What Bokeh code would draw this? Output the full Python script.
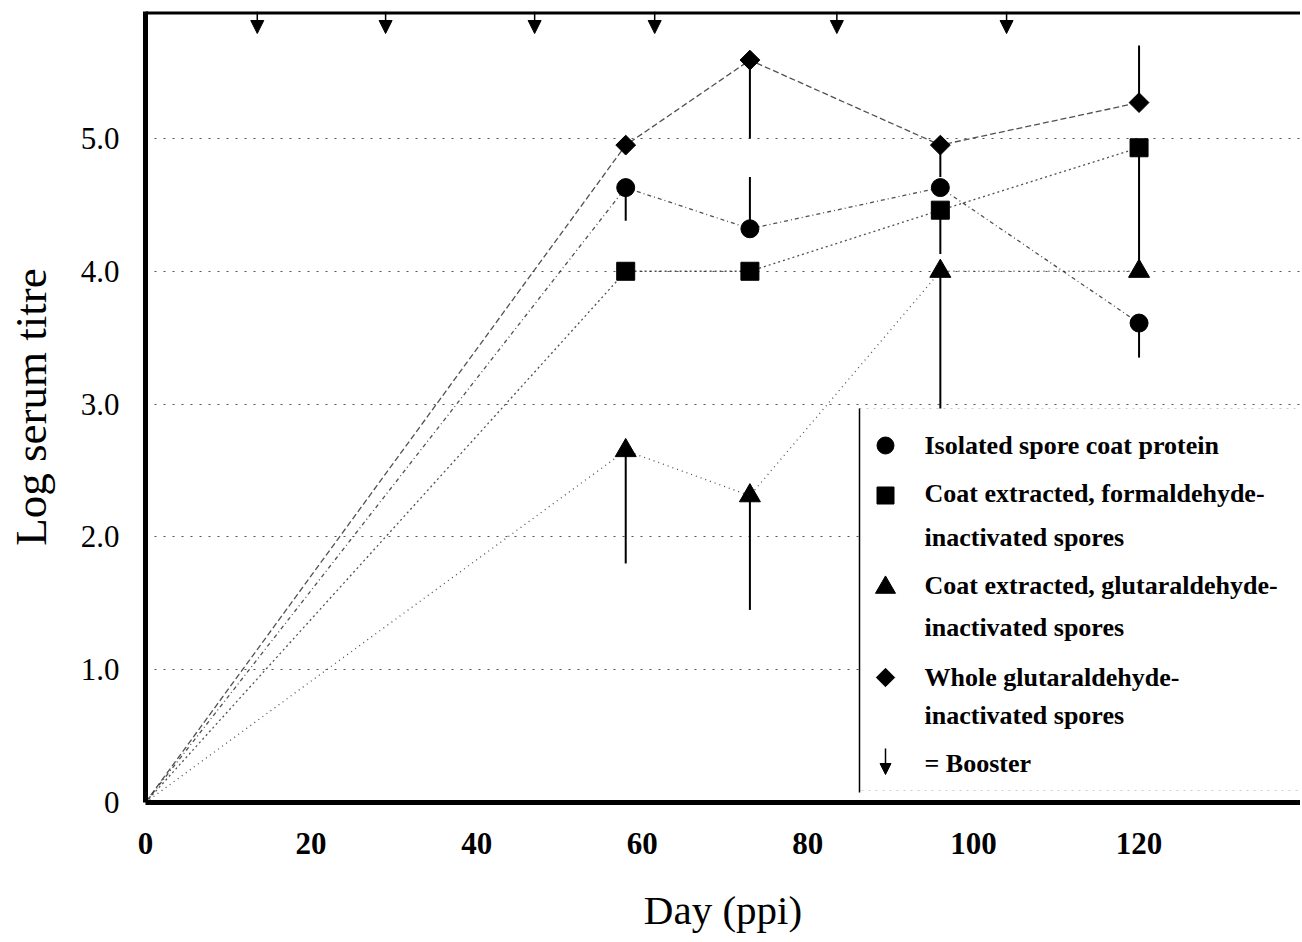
import math
from bokeh.plotting import figure
from bokeh.models import (ColumnDataSource, FixedTicker, BoxAnnotation, Label,
                          Arrow, NormalHead, Span)
from bokeh.embed import file_html
from bokeh.resources import INLINE

# ---------------- data ----------------
line_days = [0, 58, 73, 96, 120]
days = [58, 73, 96, 120]

spore_coat = [4.63, 4.32, 4.63, 3.61]
formaldehyde = [4.0, 4.0, 4.46, 4.93]
glutaraldehyde = [2.65, 2.31, 4.0, 4.0]
whole_spores = [4.95, 5.59, 4.95, 5.27]

nan = float("nan")
spore_coat_err = [4.38, 4.71, nan, 3.35]
formaldehyde_err = [nan, nan, 4.13, 4.0]
glutaraldehyde_err = [1.80, 1.45, 2.95, nan]
whole_spores_err = [nan, 5.0, 4.71, 5.70]

booster_days = [13.5, 29, 47, 61.5, 83.5, 104]

x_ticks = [0, 20, 40, 60, 80, 100, 120]
y_ticks = [0, 1, 2, 3, 4, 5]
y_tick_labels = ["0", "1.0", "2.0", "3.0", "4.0", "5.0"]

series_names = ["Isolated spore coat protein",
                "Coat extracted, formaldehyde-\ninactivated spores",
                "Coat extracted, glutaraldehyde-\ninactivated spores",
                "Whole glutaraldehyde-\ninactivated spores"]
booster_label = "= Booster"

# ---------------- layout ----------------
X0, X1 = 0, 139.5
Y0, Y1 = 0, 5.956
W, H = 1300, 940
BL, BR, BT, BB = 145, 0, 11, 138
FW = W - BL - BR
FH = H - BT - BB
OFF = 0
SERIF = "Liberation Serif"

def px_x(px):  # page pixel -> data x (layout helper for the legend)
    return X0 + (px - OFF - BL) / FW * (X1 - X0)

def px_y(py):
    return Y1 - (py - OFF - BT) / FH * (Y1 - Y0)

p = figure(width=W, height=H, x_range=(X0, X1), y_range=(Y0, Y1),
           output_backend="svg", toolbar_location=None,
           min_border_left=BL, min_border_right=BR,
           min_border_top=BT, min_border_bottom=BB)
p.outline_line_color = None
p.background_fill_color = "white"
p.border_fill_color = "white"

p.xgrid.grid_line_color = None
p.ygrid.ticker = FixedTicker(ticks=y_ticks[1:])
p.ygrid.grid_line_color = "#555555"
p.ygrid.grid_line_dash = "2 7"
p.ygrid.grid_line_width = 1

for ax in (p.xaxis[0], p.yaxis[0]):
    ax.axis_line_width = 5
    ax.axis_line_color = "black"
    ax.major_tick_line_color = None
    ax.minor_tick_line_color = None
    ax.major_label_text_font = SERIF
    ax.major_label_text_color = "black"
    ax.axis_label_text_font = SERIF
    ax.axis_label_text_font_style = "normal"
    ax.axis_label_text_color = "black"

p.xaxis.ticker = FixedTicker(ticks=x_ticks)
p.xaxis.major_label_text_font_size = "31px"
p.xaxis.major_label_text_font_style = "bold"
p.xaxis.major_label_standoff = 24
p.xaxis.axis_label = "Day (ppi)"
p.xaxis.axis_label_text_font_size = "41px"
p.xaxis.axis_label_standoff = 30

p.yaxis.ticker = FixedTicker(ticks=y_ticks)
p.yaxis.major_label_text_font_size = "31px"
p.yaxis.major_label_overrides = {t: l for t, l in zip(y_ticks, y_tick_labels)}
p.yaxis.major_label_standoff = 20
p.yaxis.axis_label = "Log serum titre"
p.yaxis.axis_label_text_font_size = "45px"
p.yaxis.axis_label_standoff = 22

# top frame line
p.add_layout(Span(location=Y1, dimension="width", line_color="black", line_width=6))

# ---------------- series ----------------
markers = [("circle", 18, 0), ("square", 18, 0), ("triangle", 21, 0), ("square", 14, math.pi / 4)]
dashes = ["4 3 1 3", "2 3", "1 4", "6 3"]
all_vals = [spore_coat, formaldehyde, glutaraldehyde, whole_spores]
all_errs = [spore_coat_err, formaldehyde_err, glutaraldehyde_err, whole_spores_err]

for vals, errs, (mk, sz, ang), dash in zip(all_vals, all_errs, markers, dashes):
    p.line(line_days, [0] + vals, line_color="#333333", line_width=1.3,
           line_dash=dash, line_alpha=0.85)
    p.segment(x0=days, y0=vals, x1=days, y1=errs, line_color="black", line_width=2)
    p.scatter(days, vals, marker=mk, size=sz, angle=ang, fill_color="black",
              line_color="black")

# booster arrows
bsrc = ColumnDataSource(dict(x=booster_days, y0=[Y1] * len(booster_days),
                             y1=[px_y(33)] * len(booster_days)))
p.add_layout(Arrow(x_start="x", y_start="y0", x_end="x", y_end="y1", source=bsrc,
                   line_width=1.5, line_color="black",
                   end=NormalHead(size=13, fill_color="black", line_color="black")))

# ---------------- legend (drawn by hand) ----------------
p.add_layout(BoxAnnotation(left=px_x(859), right=X1, bottom=px_y(790), top=px_y(408),
                           fill_color="white", fill_alpha=1.0,
                           line_color="#555555", line_width=1, line_dash="2 5",
                           level="annotation"))
p.segment(x0=[px_x(859)], y0=[px_y(408)], x1=[px_x(859)], y1=[px_y(792)],
          line_color="black", line_width=1.5, level="overlay")

mk_x = px_x(885)
tx_x = px_x(924)
rows = [445, 495, 587, 677]
line_rows = [[445], [493, 537], [585, 627], [677, 715]]
leg_sizes = [17, 17, 20, 13]
for (mk, sz, ang), lsz, my, name, ly in zip(markers, leg_sizes, rows, series_names, line_rows):
    p.scatter([mk_x], [px_y(my)], marker=mk, size=lsz, angle=ang,
              fill_color="black", line_color="black", level="overlay")
    for txt, yy in zip(name.split("\n"), ly):
        p.add_layout(Label(x=tx_x, y=px_y(yy), text=txt, text_font=SERIF,
                           text_font_size="26px", text_font_style="bold",
                           text_baseline="middle", text_color="black"))

p.add_layout(Arrow(x_start=mk_x, y_start=px_y(748), x_end=mk_x, y_end=px_y(774),
                   line_width=1.5, line_color="black",
                   end=NormalHead(size=11, fill_color="black", line_color="black")))
p.add_layout(Label(x=tx_x, y=px_y(763), text=booster_label, text_font=SERIF,
                   text_font_size="26px", text_font_style="bold",
                   text_baseline="middle", text_color="black"))

open("out.html", "w").write(file_html(p, INLINE))
